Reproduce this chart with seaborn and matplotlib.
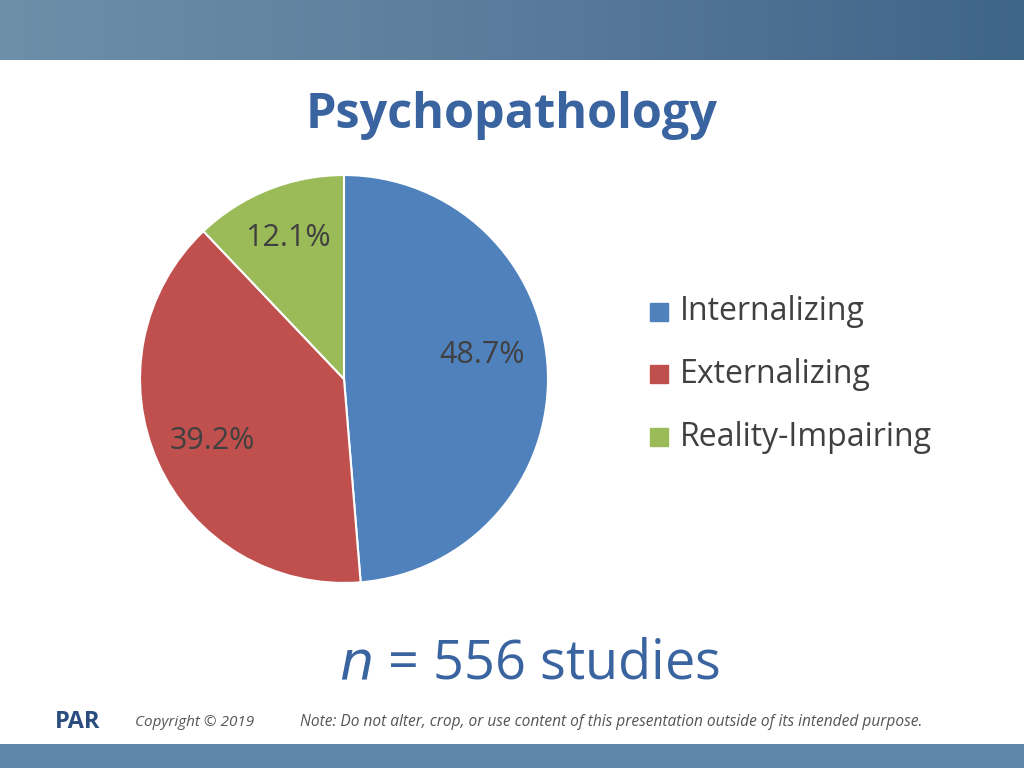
import matplotlib
matplotlib.use("Agg")
import matplotlib.pyplot as plt
import seaborn as sns
import numpy as np

categories = ["Internalizing", "Externalizing", "Reality-Impairing"]
shares = [48.7, 39.2, 12.1]
pct_labels = ["48.7%", "39.2%", "12.1%"]
colors = ["#4F81BD", "#C0504D", "#9BBB59"]

sns.set_theme(style="white")
plt.rcParams["font.family"] = ["Open Sans", "DejaVu Sans"]

fig = plt.figure(figsize=(10.24, 7.68), dpi=100)

# header band
hdr = fig.add_axes([0, 1 - 60 / 768, 1, 60 / 768])
grad = np.linspace(0, 1, 256).reshape(1, -1)
hdr.imshow(grad, aspect="auto", cmap=sns.blend_palette(["#6E8FA8", "#5A7C9C", "#3E6488"], as_cmap=True))
hdr.axis("off")
# footer band
ftr = fig.add_axes([0, 0, 1, 24 / 768])
ftr.set_facecolor("#5F86A8")
ftr.set_xticks([]); ftr.set_yticks([])
for s in ftr.spines.values():
    s.set_visible(False)

fig.text(0.5, 1 - 115 / 768, "Psychopathology", ha="center", va="center",
         fontsize=35, fontweight="bold", color="#3A64A0")

ax = fig.add_axes([(344 - 205) / 1024, 1 - (379 + 205) / 768, 410 / 1024, 410 / 768])
wedges, _ = ax.pie(shares, colors=colors, startangle=90, counterclock=False,
                   wedgeprops=dict(edgecolor="white", linewidth=1.5))
ax.set_xlim(-1.005, 1.005)
ax.set_ylim(-1.005, 1.005)
ax.set_aspect("equal")

label_pos = [(482, 355), (212, 441), (288, 238)]
for (px, py), t in zip(label_pos, pct_labels):
    fig.text(px / 1024, 1 - py / 768, t, ha="center", va="center", fontsize=22, color="#404040")

for i, (c, name) in enumerate(zip(colors, categories)):
    y = 312 + i * 62.5
    fig.patches.append(plt.Rectangle((650 / 1024, 1 - (y + 9) / 768), 18 / 1024, 18 / 768,
                                     transform=fig.transFigure, color=c))
    fig.text(680 / 1024, 1 - y / 768, name, ha="left", va="center", fontsize=23, color="#404040")

fig.text(530 / 1024, 1 - 665 / 768, "$n$ = 556 studies", ha="center", va="center",
         fontsize=39, color="#3A64A0")

fig.text(55 / 1024, 1 - 722 / 768, "PAR", ha="left", va="center", fontsize=17,
         fontweight="bold", color="#2B4C7E")
fig.text(135 / 1024, 1 - 722 / 768, "Copyright © 2019", ha="left", va="center",
         fontsize=11, style="italic", color="#555555")
fig.text(300 / 1024, 1 - 722 / 768,
         "Note: Do not alter, crop, or use content of this presentation outside of its intended purpose.",
         ha="left", va="center", fontsize=11.2, style="italic", color="#555555")

fig.savefig("out.png", dpi=100, facecolor="white")
